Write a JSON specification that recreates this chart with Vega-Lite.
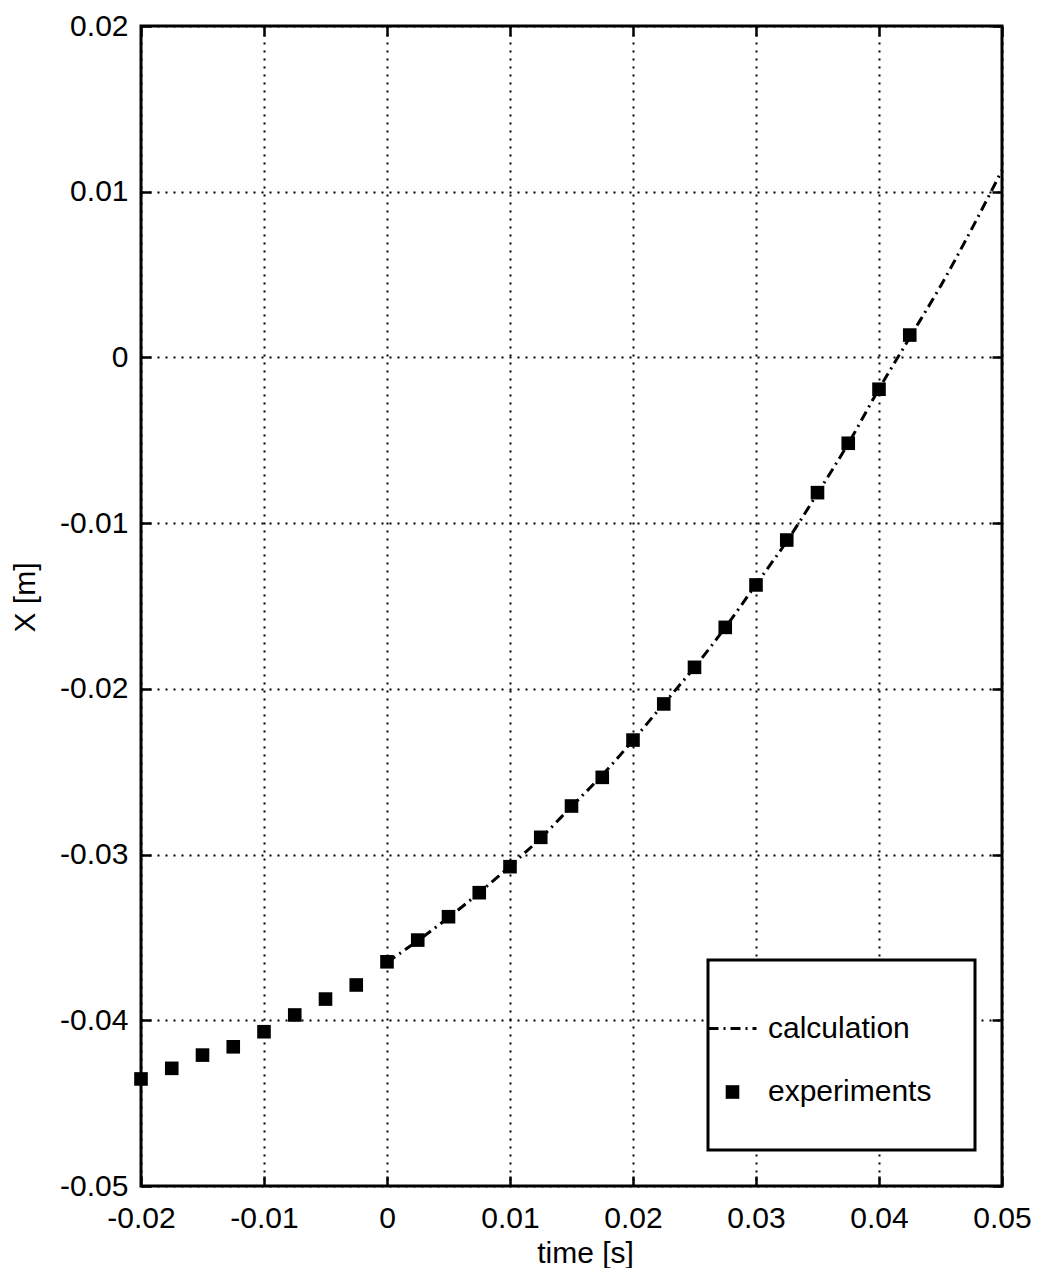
{
  "$schema": "https://vega.github.io/schema/vega-lite/v6.json",
  "width": 861,
  "height": 1160,
  "autosize": {"type": "none"},
  "padding": {"left": 141, "top": 26, "right": 40, "bottom": 82},
  "background": "white",
  "config": {
    "view": {"stroke": "black", "strokeWidth": 3},
    "font": "Liberation Sans",
    "axis": {
      "labelFont": "Liberation Sans",
      "labelFontSize": 30,
      "labelColor": "black",
      "labelFlush": false,
      "labelOverlap": false,
      "titleFont": "Liberation Sans",
      "titleFontSize": 30,
      "titleFontWeight": "normal",
      "titleColor": "black",
      "tickColor": "black",
      "tickWidth": 2.5,
      "tickSize": -10,
      "domain": false,
      "gridColor": "black",
      "gridDash": [2, 6],
      "gridWidth": 2,
      "gridOpacity": 1
    },
    "legend": {
      "labelFont": "Liberation Sans",
      "labelFontSize": 30,
      "labelColor": "black",
      "labelOffset": 10,
      "labelLimit": 400,
      "symbolOffset": -44,
      "padding": 43,
      "rowPadding": 33,
      "gridAlign": "each",
      "columns": 1,
      "direction": "vertical",
      "fillColor": "white",
      "strokeColor": "black",
      "strokeWidth": 3
    }
  },
  "datasets": {
    "calc": [
      {"time": 0.0, "pos": -0.0365, "series": "calculation"},
      {"time": 0.0025, "pos": -0.0352, "series": "calculation"},
      {"time": 0.005, "pos": -0.0338, "series": "calculation"},
      {"time": 0.0075, "pos": -0.0323, "series": "calculation"},
      {"time": 0.01, "pos": -0.0307, "series": "calculation"},
      {"time": 0.0125, "pos": -0.029, "series": "calculation"},
      {"time": 0.015, "pos": -0.0271, "series": "calculation"},
      {"time": 0.0175, "pos": -0.0252, "series": "calculation"},
      {"time": 0.02, "pos": -0.0231, "series": "calculation"},
      {"time": 0.0225, "pos": -0.0209, "series": "calculation"},
      {"time": 0.025, "pos": -0.0187, "series": "calculation"},
      {"time": 0.0275, "pos": -0.0163, "series": "calculation"},
      {"time": 0.03, "pos": -0.0137, "series": "calculation"},
      {"time": 0.0325, "pos": -0.0111, "series": "calculation"},
      {"time": 0.035, "pos": -0.0082, "series": "calculation"},
      {"time": 0.0375, "pos": -0.0052, "series": "calculation"},
      {"time": 0.04, "pos": -0.0019, "series": "calculation"},
      {"time": 0.0425, "pos": 0.0012, "series": "calculation"},
      {"time": 0.045, "pos": 0.0043, "series": "calculation"},
      {"time": 0.0475, "pos": 0.0077, "series": "calculation"},
      {"time": 0.05, "pos": 0.0113, "series": "calculation"}
    ],
    "exp": [
      {"time": -0.02, "pos": -0.04354, "series": "experiments"},
      {"time": -0.0175, "pos": -0.0429, "series": "experiments"},
      {"time": -0.015, "pos": -0.0421, "series": "experiments"},
      {"time": -0.0125, "pos": -0.0416, "series": "experiments"},
      {"time": -0.01, "pos": -0.04069, "series": "experiments"},
      {"time": -0.0075, "pos": -0.03968, "series": "experiments"},
      {"time": -0.005, "pos": -0.03872, "series": "experiments"},
      {"time": -0.0025, "pos": -0.03787, "series": "experiments"},
      {"time": 0.0, "pos": -0.03647, "series": "experiments"},
      {"time": 0.0025, "pos": -0.03516, "series": "experiments"},
      {"time": 0.005, "pos": -0.03375, "series": "experiments"},
      {"time": 0.0075, "pos": -0.0323, "series": "experiments"},
      {"time": 0.01, "pos": -0.03073, "series": "experiments"},
      {"time": 0.0125, "pos": -0.02896, "series": "experiments"},
      {"time": 0.015, "pos": -0.02707, "series": "experiments"},
      {"time": 0.0175, "pos": -0.02534, "series": "experiments"},
      {"time": 0.02, "pos": -0.02309, "series": "experiments"},
      {"time": 0.0225, "pos": -0.02091, "series": "experiments"},
      {"time": 0.025, "pos": -0.0187, "series": "experiments"},
      {"time": 0.0275, "pos": -0.01629, "series": "experiments"},
      {"time": 0.03, "pos": -0.01373, "series": "experiments"},
      {"time": 0.0325, "pos": -0.01102, "series": "experiments"},
      {"time": 0.035, "pos": -0.00816, "series": "experiments"},
      {"time": 0.0375, "pos": -0.00518, "series": "experiments"},
      {"time": 0.04, "pos": -0.00192, "series": "experiments"},
      {"time": 0.0425, "pos": 0.00135, "series": "experiments"}
    ]
  },
  "layer": [
    {
      "data": {"name": "calc"},
      "mark": {"type": "line", "interpolate": "monotone"},
      "encoding": {
        "x": {
          "field": "time", "type": "quantitative",
          "scale": {"domain": [-0.02, 0.05], "nice": false, "zero": false},
          "axis": {
            "orient": "bottom",
            "values": [-0.02, -0.01, 0, 0.01, 0.02, 0.03, 0.04, 0.05],
            "labelExpr": "datum.value == 0 ? '0' : (datum.value < 0 ? '-' : '') + format(abs(datum.value), '.2f')",
            "labelPadding": 27,
            "grid": true,
            "title": "time [s]",
            "titlePadding": 5,
            "titleX": 444
          }
        },
        "y": {
          "field": "pos", "type": "quantitative",
          "scale": {"domain": [-0.05, 0.02], "nice": false, "zero": false},
          "axis": {
            "orient": "left",
            "values": [-0.05, -0.04, -0.03, -0.02, -0.01, 0, 0.01, 0.02],
            "labelExpr": "datum.value == 0 ? '0' : (datum.value < 0 ? '-' : '') + format(abs(datum.value), '.2f')",
            "labelPadding": 23,
            "grid": true,
            "title": "X [m]",
            "titlePadding": 19,
            "titleY": 571
          }
        },
        "color": {
          "field": "series", "type": "nominal",
          "scale": {"domain": ["calculation", "experiments"], "range": ["black", "black"]},
          "legend": {"orient": "none", "legendX": 567, "legendY": 934, "title": null}
        },
        "strokeDash": {
          "field": "series", "type": "nominal",
          "scale": {"domain": ["calculation", "experiments"], "range": [[10, 5, 2, 5], [1, 0]]},
          "legend": {"orient": "none", "legendX": 567, "legendY": 934, "title": null}
        },
        "strokeWidth": {
          "field": "series", "type": "ordinal",
          "scale": {"domain": ["calculation", "experiments"], "range": [3, 0]},
          "legend": {"orient": "none", "legendX": 567, "legendY": 934, "title": null}
        }
      }
    },
    {
      "data": {"name": "exp"},
      "mark": {"type": "point", "filled": true, "opacity": 1},
      "encoding": {
        "x": {"field": "time", "type": "quantitative", "scale": {"domain": [-0.02, 0.05], "nice": false, "zero": false}, "axis": null},
        "y": {"field": "pos", "type": "quantitative", "scale": {"domain": [-0.05, 0.02], "nice": false, "zero": false}, "axis": null},
        "color": {
          "field": "series", "type": "nominal",
          "scale": {"domain": ["calculation", "experiments"], "range": ["black", "black"]},
          "legend": {"orient": "none", "legendX": 567, "legendY": 934, "title": null}
        },
        "shape": {
          "field": "series", "type": "nominal",
          "scale": {"domain": ["calculation", "experiments"], "range": ["stroke", "square"]},
          "legend": {"orient": "none", "legendX": 567, "legendY": 934, "title": null}
        },
        "size": {
          "field": "series", "type": "ordinal",
          "scale": {"domain": ["calculation", "experiments"], "range": [2304, 185]},
          "legend": {"orient": "none", "legendX": 567, "legendY": 934, "title": null}
        }
      }
    },
    {
      "data": {"name": "exp"},
      "mark": {"type": "point", "opacity": 0},
      "encoding": {
        "x": {
          "field": "time", "type": "quantitative",
          "scale": {"domain": [-0.02, 0.05], "nice": false, "zero": false},
          "axis": {"orient": "top", "values": [-0.02, -0.01, 0, 0.01, 0.02, 0.03, 0.04, 0.05], "labels": false, "grid": false, "title": null}
        },
        "y": {
          "field": "pos", "type": "quantitative",
          "scale": {"domain": [-0.05, 0.02], "nice": false, "zero": false},
          "axis": {"orient": "right", "values": [-0.05, -0.04, -0.03, -0.02, -0.01, 0, 0.01, 0.02], "labels": false, "grid": false, "title": null}
        }
      }
    }
  ]
}
